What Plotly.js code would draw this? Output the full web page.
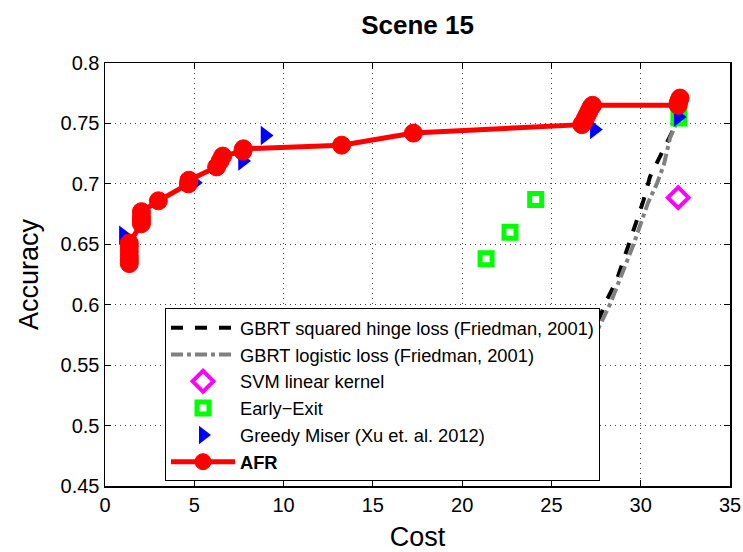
<!DOCTYPE html>
<html>
<head>
<meta charset="utf-8">
<script src="https://cdn.plot.ly/plotly-3.0.1.min.js"></script>
<style>html,body{margin:0;padding:0;background:#fff}#chart{width:743px;height:552px}</style>
</head>
<body>
<div id="chart"></div>
<script>
// ---- data ----
const gbrtHingeCost = [26.6, 27.45, 28.1, 28.65, 29.4, 30.15, 30.52, 31.08, 31.73, 32.1];
const gbrtHingeAcc  = [0.550, 0.580, 0.604, 0.620, 0.653, 0.686, 0.706, 0.722, 0.742, 0.755];

const gbrtLogCost = [26.7, 27.45, 28.3, 29.0, 29.6, 30.4, 30.9, 31.3, 31.64, 32.05];
const gbrtLogAcc  = [0.550, 0.575, 0.601, 0.628, 0.650, 0.684, 0.700, 0.716, 0.738, 0.752];

const svmCost = [32.1];
const svmAcc  = [0.6886];

const earlyExitCost = [21.34, 22.68, 24.12, 32.14];
const earlyExitAcc  = [0.638, 0.660, 0.687, 0.7545];

const greedyCost = [1.03, 5.0, 7.7, 8.96, 27.4, 32.1];
const greedyAcc  = [0.6575, 0.701, 0.719, 0.740, 0.745, 0.7553];

const afrCost = [1.36, 1.36, 1.36, 1.36, 1.36, 1.36, 2.04, 2.04, 2.04, 2.04, 2.99, 4.67, 4.70,
                 6.25, 6.45, 6.59, 7.72, 7.75, 13.25, 17.27,
                 26.7, 26.8, 26.9, 27.0, 27.1, 27.2, 27.3, 32.1, 32.1, 32.15, 32.2];
const afrAcc  = [0.634, 0.637, 0.640, 0.644, 0.648, 0.651, 0.667, 0.670, 0.673, 0.677, 0.686, 0.700, 0.703,
                 0.714, 0.719, 0.723, 0.727, 0.729, 0.732, 0.742,
                 0.749, 0.751, 0.754, 0.757, 0.760, 0.763, 0.765, 0.765, 0.767, 0.769, 0.771];

const chartTitle = 'Scene 15';
const xLabel = 'Cost';
const yLabel = 'Accuracy';
const xTicks = [0, 5, 10, 15, 20, 25, 30, 35];
const yTicks = [0.45, 0.5, 0.55, 0.6, 0.65, 0.7, 0.75, 0.8];
const yTickText = ['0.45', '0.5', '0.55', '0.6', '0.65', '0.7', '0.75', '0.8'];

const FONT = 'Liberation Sans, Arial, Helvetica, sans-serif';

const traces = [
  {x: gbrtHingeCost, y: gbrtHingeAcc, mode: 'lines', name: 'GBRT squared hinge loss (Friedman, 2001)',
   line: {color: '#000000', width: 4, dash: 'dash'}},
  {x: gbrtLogCost, y: gbrtLogAcc, mode: 'lines', name: 'GBRT logistic loss (Friedman, 2001)',
   line: {color: '#808080', width: 4, dash: 'dashdot'}},
  {x: svmCost, y: svmAcc, mode: 'markers', name: 'SVM linear kernel',
   marker: {symbol: 'diamond-open', size: 16, color: '#ff00ff', line: {color: '#ff00ff', width: 4}}},
  {x: earlyExitCost, y: earlyExitAcc, mode: 'markers', name: 'Early\u2212Exit',
   marker: {symbol: 'square-open', size: 12, color: '#00ff00', line: {color: '#00ff00', width: 5}}},
  {x: greedyCost, y: greedyAcc, mode: 'markers', name: 'Greedy Miser (Xu et. al. 2012)',
   marker: {symbol: 'triangle-right', size: 17, color: '#0000ff', line: {width: 0}}},
  {x: afrCost, y: afrAcc, mode: 'lines+markers', name: '<b>AFR</b>',
   line: {color: '#ff0000', width: 5},
   marker: {symbol: 'circle', size: 18, color: '#ff0000', line: {color: '#ff0000', width: 1}}}
];

const axisCommon = {
  showline: true, linecolor: '#000', linewidth: 1.5, mirror: 'ticks',
  ticks: 'inside', ticklen: 6, tickwidth: 1, tickcolor: '#000',
  showgrid: true, gridcolor: '#444', gridwidth: 1, griddash: '1px,4px',
  zeroline: false, tickfont: {family: FONT, size: 20, color: '#000'}
};

const layout = {
  width: 743, height: 552,
  paper_bgcolor: '#fff', plot_bgcolor: '#fff',
  margin: {l: 105, r: 13, t: 63, b: 66},
  title: {text: '<b>' + chartTitle + '</b>', font: {family: FONT, size: 26, color: '#000'},
          x: 0.562, xref: 'container', xanchor: 'center', y: 0.955, yref: 'container', yanchor: 'middle'},
  xaxis: Object.assign({}, axisCommon, {
    range: [0, 35], tickvals: xTicks, ticktext: xTicks.map(String),
    title: {text: xLabel, font: {family: FONT, size: 27, color: '#000'}, standoff: 14}
  }),
  yaxis: Object.assign({}, axisCommon, {
    range: [0.45, 0.8], tickvals: yTicks, ticktext: yTickText,
    title: {text: yLabel, font: {family: FONT, size: 27, color: '#000'}, standoff: 14}
  }),
  showlegend: true,
  legend: {
    x: 0.096, xanchor: 'left', y: 0.42, yanchor: 'top',
    bgcolor: '#fff', bordercolor: '#000', borderwidth: 1,
    font: {family: FONT, size: 18.3, color: '#000'},
    itemwidth: 64, traceorder: 'normal'
  }
};

Plotly.newPlot('chart', traces, layout, {displayModeBar: false, staticPlot: true});
</script>
</body>
</html>
